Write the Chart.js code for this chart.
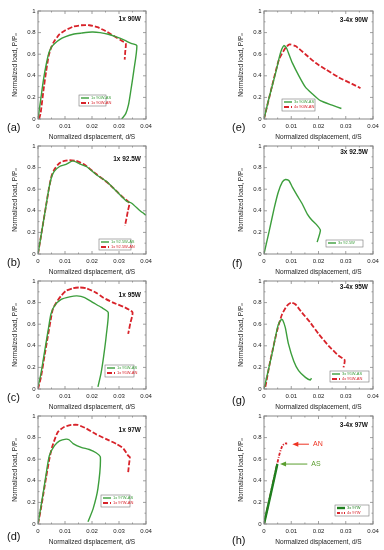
<!DOCTYPE html>
<html>
<head>
<meta charset="utf-8">
<script src="https://cdn.jsdelivr.net/npm/chart.js@4.4.1/dist/chart.umd.min.js"></script>
<style>
body { margin: 0; background: #fff; }
#wrap { position: relative; width: 384px; height: 550px; overflow: hidden; }
canvas { position: absolute; }
</style>
</head>
<body>
<div id="wrap">
  <canvas id="ca" width="192" height="141" style="left:0;top:0"></canvas>
  <canvas id="cb" width="192" height="141" style="left:0;top:135px"></canvas>
  <canvas id="cc" width="192" height="141" style="left:0;top:270px"></canvas>
  <canvas id="cd" width="192" height="141" style="left:0;top:405px"></canvas>
  <canvas id="ce" width="159" height="141" style="left:225px;top:0"></canvas>
  <canvas id="cf" width="159" height="141" style="left:225px;top:135px"></canvas>
  <canvas id="cg" width="159" height="141" style="left:225px;top:270px"></canvas>
  <canvas id="ch" width="159" height="141" style="left:225px;top:405px"></canvas>
</div>
<script>
// axis ticks
xTicks = [0, 0.01, 0.02, 0.03, 0.04];
yTicks = [0, 0.2, 0.4, 0.6, 0.8, 1];

// data [d/S, P/Po]
a_AS = [[0,0],[0.001,0.18],[0.002,0.36],[0.003,0.50],[0.004,0.61],[0.005,0.665],[0.006,0.695],[0.008,0.735],[0.010,0.76],[0.013,0.785],[0.016,0.795],[0.020,0.805],[0.023,0.80],[0.026,0.785],[0.029,0.76],[0.032,0.73],[0.0345,0.70],[0.0366,0.68],[0.0355,0.45],[0.0343,0.25],[0.0335,0.13],[0.0325,0.05],[0.031,0]];
a_AN = [[0.0004,0],[0.001,0.06],[0.002,0.26],[0.003,0.44],[0.004,0.59],[0.005,0.67],[0.006,0.72],[0.008,0.785],[0.010,0.82],[0.013,0.855],[0.016,0.868],[0.019,0.868],[0.022,0.85],[0.025,0.815],[0.027,0.785],[0.029,0.755],[0.031,0.725],[0.0325,0.70],[0.0323,0.62],[0.0321,0.55]];
b_AS = [[0,0],[0.001,0.15],[0.002,0.30],[0.003,0.45],[0.004,0.60],[0.005,0.71],[0.006,0.765],[0.008,0.81],[0.0104,0.83],[0.0129,0.862],[0.0154,0.835],[0.0179,0.81],[0.0216,0.734],[0.0253,0.673],[0.0291,0.58],[0.0328,0.49],[0.0347,0.47],[0.0378,0.40],[0.040,0.36]];
b_AN = [[0,0],[0.001,0.15],[0.002,0.30],[0.003,0.45],[0.004,0.60],[0.005,0.72],[0.006,0.78],[0.0073,0.826],[0.0085,0.85],[0.0098,0.862],[0.0117,0.87],[0.0142,0.862],[0.0173,0.826],[0.0216,0.74],[0.0266,0.642],[0.031,0.535],[0.0338,0.474],[0.0333,0.40],[0.0327,0.32],[0.0322,0.26]];
c_AS = [[0,0.02],[0.001,0.13],[0.002,0.28],[0.003,0.43],[0.004,0.58],[0.0048,0.694],[0.0061,0.77],[0.0086,0.83],[0.0117,0.853],[0.0144,0.862],[0.0173,0.847],[0.0204,0.80],[0.0235,0.755],[0.026,0.71],[0.0253,0.50],[0.0243,0.30],[0.0233,0.14],[0.0222,0.02]];
c_AN = [[0,0],[0.0011,0.11],[0.0025,0.32],[0.0036,0.48],[0.0047,0.64],[0.0055,0.74],[0.0073,0.82],[0.0088,0.87],[0.0104,0.91],[0.0129,0.933],[0.0154,0.94],[0.0179,0.933],[0.0216,0.89],[0.0241,0.847],[0.0278,0.80],[0.0322,0.755],[0.035,0.71],[0.0342,0.61],[0.0334,0.51]];
d_AS = [[0,0],[0.001,0.15],[0.002,0.30],[0.003,0.46],[0.0042,0.633],[0.0061,0.725],[0.008,0.77],[0.0104,0.786],[0.0115,0.78],[0.013,0.745],[0.016,0.71],[0.019,0.69],[0.0215,0.66],[0.0231,0.62],[0.0222,0.33],[0.0204,0.14],[0.0185,0.02]];
d_AN = [[0,0],[0.001,0.13],[0.002,0.28],[0.003,0.43],[0.0042,0.60],[0.0052,0.71],[0.0073,0.85],[0.0098,0.90],[0.0123,0.917],[0.0148,0.917],[0.0179,0.884],[0.0216,0.83],[0.0253,0.786],[0.0291,0.74],[0.0316,0.70],[0.0334,0.633],[0.034,0.62],[0.0337,0.55],[0.0334,0.48]];
e_AS = [[0,0],[0.0018,0.19],[0.0043,0.43],[0.0057,0.58],[0.0065,0.645],[0.0073,0.68],[0.0082,0.66],[0.0093,0.59],[0.0104,0.52],[0.0128,0.40],[0.0152,0.295],[0.0177,0.234],[0.0207,0.17],[0.025,0.128],[0.0284,0.097]];
e_AN = [[0,0],[0.003,0.31],[0.0055,0.55],[0.0079,0.66],[0.0094,0.69],[0.0116,0.675],[0.0152,0.60],[0.0189,0.52],[0.0226,0.46],[0.0274,0.386],[0.0323,0.325],[0.0354,0.286]];
f_AS = [[0,0],[0.0018,0.2],[0.0037,0.42],[0.0052,0.57],[0.0067,0.665],[0.0079,0.69],[0.0091,0.68],[0.0104,0.62],[0.0122,0.54],[0.014,0.465],[0.0159,0.37],[0.0177,0.31],[0.0195,0.265],[0.0207,0.22],[0.0195,0.11]];
g_AS = [[0,0],[0.0029,0.32],[0.0051,0.585],[0.0064,0.646],[0.0069,0.637],[0.0078,0.57],[0.009,0.415],[0.0109,0.26],[0.0127,0.17],[0.0152,0.108],[0.017,0.083],[0.0174,0.10]];
g_AN = [[0.0005,0.02],[0.0023,0.26],[0.0048,0.54],[0.0066,0.69],[0.0084,0.77],[0.01,0.80],[0.0115,0.785],[0.0139,0.708],[0.017,0.615],[0.0201,0.508],[0.0237,0.40],[0.0274,0.308],[0.0296,0.268],[0.0292,0.20]];
h_AS = [[0,0],[0.0025,0.28],[0.0049,0.555]];
h_AN = [[0,0],[0.0055,0.63],[0.0067,0.724],[0.0077,0.745],[0.0085,0.745]];

// legend texts and titles
legA = ['1x 90W-AS', '1x 90W-AN'];
legB = ['1x 92.5W-AS', '1x 92.5W-AN'];
legC = ['1x 95W-AS', '1x 95W-AN'];
legD = ['1x 97W-AS', '1x 97W-AN'];
legE = ['3x 90W-AS', '4x 90W-AN'];
legF = ['3x 92.5W'];
legG = ['3x 95W-AS', '4x 95W-AN'];
legH = ['3x 97W', '4x 97W'];
titles = ['1x 90W', '1x 92.5W', '1x 95W', '1x 97W', '3-4x 90W', '3x 92.5W', '3-4x 95W', '3-4x 97W'];
letters = ['(a)', '(b)', '(c)', '(d)', '(e)', '(f)', '(g)', '(h)'];
// arrows in (h): [tip x, y, tail x, label]
arrowAN = [0.0104, 0.739, 0.0165, 'AN'];
arrowAS = [0.0059, 0.555, 0.0159, 'AS'];

var FONT = "'Liberation Sans', Arial, sans-serif";
var GREEN = '#3c9e3c', RED = '#d8232a';

function drawArrow(ctx, xs, ys, arr, color) {
  var tx = xs.getPixelForValue(arr[0]), ty = ys.getPixelForValue(arr[1]);
  var ex = xs.getPixelForValue(arr[2]);
  ctx.strokeStyle = color; ctx.fillStyle = color; ctx.lineWidth = 1; ctx.setLineDash([]);
  ctx.beginPath(); ctx.moveTo(tx + 4, ty); ctx.lineTo(ex, ty); ctx.stroke();
  ctx.beginPath(); ctx.moveTo(tx, ty); ctx.lineTo(tx + 6, ty - 2.5); ctx.lineTo(tx + 6, ty + 2.5); ctx.closePath(); ctx.fill();
  ctx.font = '7px ' + FONT; ctx.textAlign = 'left'; ctx.textBaseline = 'middle';
  ctx.fillText(arr[3], ex + 4, ty);
}

var deco = {
  id: 'deco',
  afterDraw: function(chart, args, o) {
    var ctx = chart.ctx, a = chart.chartArea, xs = chart.scales.x, ys = chart.scales.y;
    ctx.save();
    ctx.strokeStyle = '#777'; ctx.lineWidth = 0.7;
    // inner tick marks
    ctx.beginPath();
    for (var i = 0; i < xTicks.length; i++) {
      var px = xs.getPixelForValue(xTicks[i]);
      ctx.moveTo(px, a.bottom); ctx.lineTo(px, a.bottom - 3);
      ctx.moveTo(px, a.top); ctx.lineTo(px, a.top + 3);
      if (i < xTicks.length - 1) {
        var mx = xs.getPixelForValue((xTicks[i] + xTicks[i + 1]) / 2);
        ctx.moveTo(mx, a.bottom); ctx.lineTo(mx, a.bottom - 1.5);
        ctx.moveTo(mx, a.top); ctx.lineTo(mx, a.top + 1.5);
      }
    }
    for (var j = 0; j < yTicks.length; j++) {
      var py = ys.getPixelForValue(yTicks[j]);
      ctx.moveTo(a.left, py); ctx.lineTo(a.left + 3, py);
      ctx.moveTo(a.right, py); ctx.lineTo(a.right - 3, py);
      if (j < yTicks.length - 1) {
        var my = ys.getPixelForValue((yTicks[j] + yTicks[j + 1]) / 2);
        ctx.moveTo(a.left, my); ctx.lineTo(a.left + 1.5, my);
        ctx.moveTo(a.right, my); ctx.lineTo(a.right - 1.5, my);
      }
    }
    ctx.stroke();
    ctx.strokeStyle = '#888'; ctx.lineWidth = 1;
    ctx.strokeRect(a.left, a.top, a.right - a.left, a.bottom - a.top);

    // panel title
    ctx.fillStyle = '#111';
    ctx.font = 'bold 6.5px ' + FONT; ctx.textAlign = 'right'; ctx.textBaseline = 'middle';
    ctx.fillText(o.title, a.right - 5, a.top + o.ty);
    // panel letter
    ctx.font = '11px ' + FONT; ctx.textAlign = 'left';
    ctx.fillText(o.letter, 7, o.ly);

    // legend box
    var L = o.leg, bx = a.left + L[0], by = a.top + L[1];
    var ds = chart.data.datasets;
    ctx.fillStyle = '#fff'; ctx.fillRect(bx, by, L[2], L[3]);
    ctx.strokeStyle = '#777'; ctx.lineWidth = 0.6; ctx.strokeRect(bx, by, L[2], L[3]);
    for (var k = 0; k < ds.length; k++) {
      var ry = by + 3 + k * 5;
      ctx.strokeStyle = ds[k].borderColor; ctx.lineWidth = ds[k].borderWidth;
      ctx.setLineDash(ds[k].borderDash || []);
      ctx.beginPath(); ctx.moveTo(bx + 2, ry); ctx.lineTo(bx + 10, ry); ctx.stroke();
      ctx.setLineDash([]);
      ctx.fillStyle = ds[k].borderColor; ctx.font = '4px ' + FONT;
      ctx.fillText(ds[k].label, bx + 12, ry);
    }
    if (o.arrows) {
      drawArrow(ctx, xs, ys, arrowAN, '#ee3322');
      drawArrow(ctx, xs, ys, arrowAS, '#5a9e2e');
    }
    ctx.restore();
  }
};

function series(label, pts, color, width, dash) {
  return {
    label: label, data: pts, showLine: true, borderColor: color, borderWidth: width,
    borderDash: dash, pointRadius: 0, tension: 0.2, fill: false
  };
}

function fmt(v) { return String(+v.toFixed(2)); }

function makePanel(id, datasets, padRight, axisW, o) {
  new Chart(document.getElementById(id), {
    type: 'scatter',
    data: { datasets: datasets },
    plugins: [deco],
    options: {
      responsive: false, animation: false, devicePixelRatio: 1,
      layout: { padding: { left: 0, right: padRight, top: 11, bottom: 0 } },
      plugins: { legend: { display: false }, tooltip: { enabled: false }, deco: o },
      scales: {
        x: {
          type: 'linear', min: xTicks[0], max: xTicks[xTicks.length - 1],
          ticks: { stepSize: 0.01, autoSkip: false, maxRotation: 0, padding: 4, color: '#222', font: { size: 6, family: FONT }, callback: fmt },
          grid: { display: false, drawTicks: false, tickLength: 0 }, border: { display: false },
          title: { display: true, text: 'Normalized displacement, d/S', color: '#222', padding: 0, font: { size: 6.5, family: FONT } },
          afterFit: function(s) { s.height = 22; }
        },
        y: {
          min: yTicks[0], max: yTicks[yTicks.length - 1],
          ticks: { stepSize: 0.2, padding: 2.5, color: '#222', font: { size: 6, family: FONT }, callback: fmt },
          grid: { display: false, drawTicks: false, tickLength: 0 }, border: { display: false },
          title: { display: true, text: 'Normalized load, P/Pₒ', color: '#222', padding: { top: axisW - 27, bottom: 0 }, font: { size: 6.5, family: FONT } },
          afterFit: function(s) { s.width = axisW; }
        }
      }
    }
  });
}

var dashAN = [5, 2];
makePanel('ca', [series(legA[0], a_AS, GREEN, 1.4), series(legA[1], a_AN, RED, 1.8, dashAN)], 46, 38,
  { title: titles[0], letter: letters[0], ty: 8, ly: 128, leg: [41, 84, 27, 11] });
makePanel('cb', [series(legB[0], b_AS, GREEN, 1.4), series(legB[1], b_AN, RED, 1.8, dashAN)], 46, 38,
  { title: titles[1], letter: letters[1], ty: 13, ly: 128, leg: [61, 93, 32, 11] });
makePanel('cc', [series(legC[0], c_AS, GREEN, 1.4), series(legC[1], c_AN, RED, 1.8, dashAN)], 46, 38,
  { title: titles[2], letter: letters[2], ty: 14, ly: 128, leg: [67, 84, 29, 12] });
makePanel('cd', [series(legD[0], d_AS, GREEN, 1.4), series(legD[1], d_AN, RED, 1.8, dashAN)], 46, 38,
  { title: titles[3], letter: letters[3], ty: 14, ly: 132, leg: [63, 79, 29, 12] });
makePanel('ce', [series(legE[0], e_AS, GREEN, 1.4), series(legE[1], e_AN, RED, 1.8, dashAN)], 11, 39,
  { title: titles[4], letter: letters[4], ty: 9, ly: 128, leg: [18, 88, 33, 12] });
makePanel('cf', [series(legF[0], f_AS, GREEN, 1.4)], 11, 39,
  { title: titles[5], letter: letters[5], ty: 6, ly: 129, leg: [62, 94, 37, 7] });
makePanel('cg', [series(legG[0], g_AS, GREEN, 1.4), series(legG[1], g_AN, RED, 1.8, dashAN)], 11, 39,
  { title: titles[6], letter: letters[6], ty: 6, ly: 131, leg: [66, 90, 39, 11] });
makePanel('ch', [series(legH[0], h_AS, '#1e7f1e', 2.4), series(legH[1], h_AN, RED, 1.8, [3, 1.5, 1, 1.5])], 11, 39,
  { title: titles[7], letter: letters[7], ty: 9, ly: 136, leg: [71, 89, 34, 11], arrows: true });
</script>
</body>
</html>
